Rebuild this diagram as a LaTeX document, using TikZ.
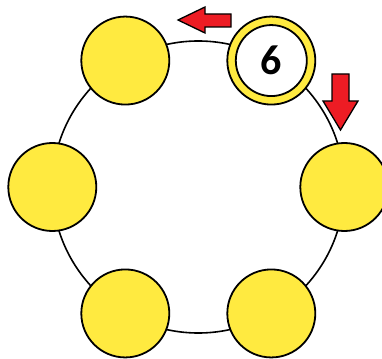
\documentclass[tikz,border=0pt]{standalone}
\usepackage{fontspec}
\usetikzlibrary{calc}
\newfontfamily\carlito{Carlito}
\definecolor{ballyellow}{RGB}{255,234,64}
\definecolor{arrowred}{RGB}{237,28,36}
\begin{document}
\begin{tikzpicture}[x=1pt,y=-1pt,
  ball/.style={circle,draw=black,line width=1.8pt,fill=ballyellow,minimum size=88pt,inner sep=0pt},
  ring/.style={circle,draw=black,line width=1.8pt,fill=white,minimum size=71pt,inner sep=0pt,font=\carlito\bfseries\fontsize{42}{42}\selectfont},
  redarrow/.style={draw=black,line width=1.3pt,fill=arrowred,line join=miter}]
\useasboundingbox (0,0) rectangle (382,358);
\coordinate (c) at (198.3,187);
\draw[line width=1.6pt] (c) circle[radius=146];
\node[ball] (bR)  at ($(c)+(0:146)$) {};
\node[ball] (bBR) at ($(c)+(60:146)$) {};
\node[ball] (bBL) at ($(c)+(120:146)$) {};
\node[ball] (bL)  at ($(c)+(180:146)$) {};
\node[ball] (bTL) at ($(c)+(240:146)$) {};
\node[ball] (bTR) at ($(c)+(300:146)$) {};
\node[ring] (six) at (bTR.center) {6};
% left arrow
\draw[redarrow] (178,20) -- (205,7) -- (205,14) -- (231,14) -- (231,27) -- (205,27) -- (205,33) -- cycle;
% down arrow
\draw[redarrow] (340.5,130) -- (358,101) -- (349,101) -- (349,74) -- (332,74) -- (332,101) -- (323,101) -- cycle;
\end{tikzpicture}
\end{document}
